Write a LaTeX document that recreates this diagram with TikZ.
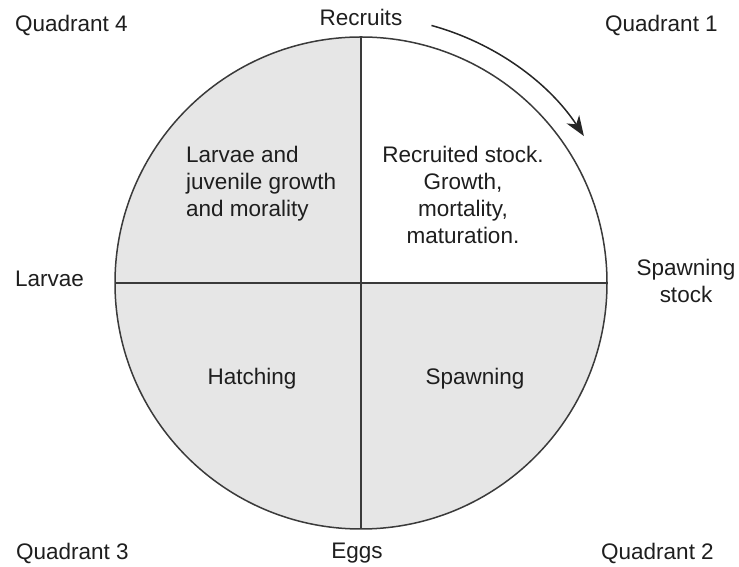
\documentclass[tikz,border=0pt]{standalone}
\usepackage{fontspec}
\setmainfont{Liberation Sans}
\usetikzlibrary{arrows.meta}
\definecolor{linegray}{HTML}{3A3A3A}
\definecolor{fillgray}{HTML}{E6E6E6}
\definecolor{txt}{HTML}{1E1E1E}
\begin{document}
\begin{tikzpicture}[x=1pt,y=1pt,
  lbl/.style={inner sep=0pt,text=txt,font=\fontsize{22.5}{27}\selectfont},
  ring/.style={draw=linegray,line width=1.5pt},
  divider/.style={draw=linegray,line width=2pt},
  cyclearrow/.style={draw=black!85,line width=1.5pt,-{Stealth[length=20pt,width=15pt,inset=6pt]}}]
\useasboundingbox (0,0) rectangle (739,567);
\coordinate (c) at (361,284);
% filled circle and white first quadrant
\fill[fillgray] (c) circle[radius=246];
\fill[white] (c) -- ++(246,0) arc[start angle=0,end angle=90,radius=246] -- cycle;
\draw[ring] (c) circle[radius=246];
\coordinate (w) at (115,284);
\coordinate (e) at (607,284);
\coordinate (n) at (361,530);
\coordinate (s) at (361,38);
\draw[divider] (w) -- (e);
\draw[divider] (s) -- (n);
% cycle arrow
\coordinate (a0) at ([shift={(74.7:267)}]c);
\draw[cyclearrow] (a0) arc[start angle=74.7,end angle=33.4,radius=267];
% labels
\node[lbl,anchor=base west] (q4) at (15,535) {Quadrant 4};
\node[lbl,anchor=base] (rec) at (361,541) {Recruits};
\node[lbl,anchor=base west] (q1) at (605,535) {Quadrant 1};
\node[lbl,anchor=base west] (lar) at (15,280) {Larvae};
\node[lbl,anchor=north,align=center] (sps) at (686,308) {Spawning\\stock};
\node[lbl,anchor=base west] (q3) at (16,7) {Quadrant 3};
\node[lbl,anchor=base] (egg) at (357,8) {Eggs};
\node[lbl,anchor=base west] (q2) at (601,7) {Quadrant 2};
\node[lbl,anchor=north west,align=left] (juv) at (186,421) {Larvae and\\juvenile growth\\and morality};
\node[lbl,anchor=north,align=center] (rs) at (463,421) {Recruited stock.\\Growth,\\mortality,\\maturation.};
\node[lbl,anchor=base] (hat) at (252,182) {Hatching};
\node[lbl,anchor=base] (spw) at (475,182) {Spawning};
\end{tikzpicture}
\end{document}
